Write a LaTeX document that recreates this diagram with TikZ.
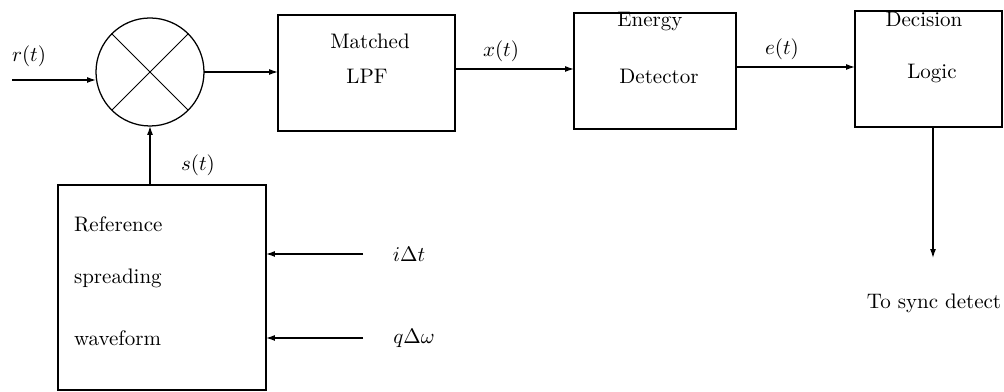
\documentclass[tikz,border=0pt]{standalone}
\usetikzlibrary{arrows.meta,calc}
\def\u{0.476pt}
\begin{document}
\begin{tikzpicture}[x=0.476pt,y=-0.476pt,
  line width=0.6pt,
  arr/.style={-{Latex[length=4.2pt,width=2.8pt]}},
  blk/.style={draw,rectangle,inner sep=0pt,outer sep=0pt},
  txt/.style={inner sep=0pt,outer sep=0pt}]
\useasboundingbox (0,0) rectangle (1004,392);
% mixer
\node[draw,circle,minimum size=108*\u,inner sep=0pt,outer sep=0pt] (m) at (150,72) {};
\draw[line width=0.4pt] (m.45) -- (m.225);
\draw[line width=0.4pt] (m.135) -- (m.315);
% blocks
\node[blk,minimum width=177*\u,minimum height=116*\u] (lpf) at (366.5,73) {};
\node[blk,minimum width=162*\u,minimum height=116*\u] (det) at (655,71) {};
\node[blk,minimum width=147*\u,minimum height=116*\u] (dec) at (928.5,69) {};
\node[blk,minimum width=208*\u,minimum height=205*\u] (ref) at (162,287.5) {};
% block texts
\node[txt] (t1) at (370,41) {Matched};
\node[txt] (t2) at (367,76) {LPF};
\node[txt] (t3) at (650,22) {Energy};
\node[txt] (t4) at (659,76) {Detector};
\node[txt] (t5) at (924,19) {Decision};
\node[txt] (t6) at (932,73) {Logic};
\node[txt,anchor=base west] (t7) at (74,232) {Reference};
\node[txt,anchor=base west] (t8) at (74,284) {spreading};
\node[txt,anchor=base west] (t9) at (74,346) {waveform};
\node[txt] (t10) at (934,303) {To sync detect};
% signal labels
\node[txt] (lr) at (29,56) {$r(t)$};
\node[txt] (ls) at (198,165) {$s(t)$};
\node[txt] (lx) at (501,51) {$x(t)$};
\node[txt] (le) at (782,49) {$e(t)$};
\node[txt] (li) at (409,254) {$i\Delta t$};
\node[txt] (lq) at (414,338) {$q\Delta\omega$};
% coordinates
\coordinate (rin) at (12,80);
\coordinate (iin) at (363,254);
\coordinate (qin) at (363,338);
\coordinate (sync) at (933,258);
% connectors
\draw[arr] (rin) -- (rin -| m.west);
\draw[arr] (m.east) -- (m.east -| lpf.west);
\draw[arr] (lpf.east |- 0,69) -- (det.west |- 0,69);
\draw[arr] (det.east |- 0,67) -- (dec.west |- 0,67);
\draw[arr] (sync |- dec.south) -- (sync);
\draw[arr] (m.south |- ref.north) -- (m.south);
\draw[arr] (iin) -- (iin -| ref.east);
\draw[arr] (qin) -- (qin -| ref.east);
\end{tikzpicture}
\end{document}
